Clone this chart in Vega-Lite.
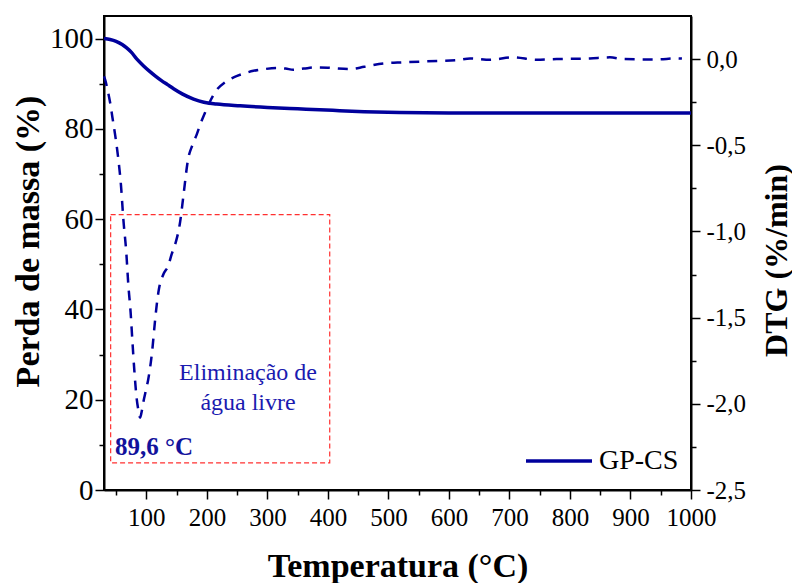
{
  "$schema": "https://vega.github.io/schema/vega-lite/v6.json",
  "width": 587,
  "height": 474,
  "autosize": {"type": "none"},
  "padding": {"left": 104, "top": 16, "right": 101, "bottom": 93},
  "background": "white",
  "config": {
    "view": {"stroke": "black", "strokeWidth": 2},
    "axis": {
      "labelFont": "Liberation Serif", "labelColor": "black",
      "titleFont": "Liberation Serif", "titleFontWeight": "bold", "titleColor": "black",
      "domainColor": "black", "tickColor": "black", "domainWidth": 2, "tickWidth": 1.5,
      "grid": false, "labelFlush": false, "labelOverlap": false
    },
    "legend": {"labelFont": "Liberation Serif", "labelColor": "black"}
  },
  "datasets": {
    "tg": [
      {"temp": 30, "mass": 100.0}, {"temp": 40, "mass": 99.8}, {"temp": 50, "mass": 99.4},
      {"temp": 60, "mass": 98.7}, {"temp": 67, "mass": 98.0}, {"temp": 75, "mass": 97.0},
      {"temp": 84, "mass": 95.5}, {"temp": 95, "mass": 94.0}, {"temp": 105, "mass": 92.8},
      {"temp": 115, "mass": 91.7}, {"temp": 125, "mass": 90.7}, {"temp": 135, "mass": 89.8},
      {"temp": 145, "mass": 88.9}, {"temp": 160, "mass": 87.7}, {"temp": 178, "mass": 86.6},
      {"temp": 195, "mass": 85.9}, {"temp": 216, "mass": 85.5}, {"temp": 255, "mass": 85.1},
      {"temp": 300, "mass": 84.75}, {"temp": 350, "mass": 84.45}, {"temp": 408, "mass": 84.1},
      {"temp": 460, "mass": 83.8}, {"temp": 519, "mass": 83.6}, {"temp": 600, "mass": 83.5},
      {"temp": 700, "mass": 83.5}, {"temp": 800, "mass": 83.5}, {"temp": 900, "mass": 83.5},
      {"temp": 1000, "mass": 83.5}
    ],
    "dtg": [
      {"temp": 30, "dtg": -0.10}, {"temp": 32, "dtg": -0.12}, {"temp": 36, "dtg": -0.18},
      {"temp": 40, "dtg": -0.25}, {"temp": 44, "dtg": -0.34}, {"temp": 48, "dtg": -0.43},
      {"temp": 53, "dtg": -0.56}, {"temp": 58, "dtg": -0.73}, {"temp": 62, "dtg": -0.93},
      {"temp": 67, "dtg": -1.13}, {"temp": 70, "dtg": -1.30}, {"temp": 74, "dtg": -1.47},
      {"temp": 77, "dtg": -1.64}, {"temp": 80, "dtg": -1.80}, {"temp": 84, "dtg": -1.97},
      {"temp": 87, "dtg": -2.04}, {"temp": 89.6, "dtg": -2.08}, {"temp": 92, "dtg": -2.05},
      {"temp": 95, "dtg": -1.99}, {"temp": 100, "dtg": -1.91}, {"temp": 103, "dtg": -1.86},
      {"temp": 110, "dtg": -1.68}, {"temp": 114, "dtg": -1.53}, {"temp": 118, "dtg": -1.40},
      {"temp": 121, "dtg": -1.33}, {"temp": 128, "dtg": -1.25}, {"temp": 136, "dtg": -1.20},
      {"temp": 142, "dtg": -1.13}, {"temp": 148, "dtg": -1.07}, {"temp": 156, "dtg": -0.94},
      {"temp": 161, "dtg": -0.80}, {"temp": 169, "dtg": -0.58}, {"temp": 176, "dtg": -0.50},
      {"temp": 183, "dtg": -0.44}, {"temp": 190, "dtg": -0.37}, {"temp": 197, "dtg": -0.31},
      {"temp": 206, "dtg": -0.24}, {"temp": 216, "dtg": -0.18}, {"temp": 230, "dtg": -0.135},
      {"temp": 245, "dtg": -0.105}, {"temp": 260, "dtg": -0.085}, {"temp": 277, "dtg": -0.068},
      {"temp": 295, "dtg": -0.058}, {"temp": 315, "dtg": -0.052}, {"temp": 330, "dtg": -0.055},
      {"temp": 343, "dtg": -0.062}, {"temp": 360, "dtg": -0.055}, {"temp": 381, "dtg": -0.048},
      {"temp": 400, "dtg": -0.050}, {"temp": 414, "dtg": -0.054}, {"temp": 437, "dtg": -0.058},
      {"temp": 460, "dtg": -0.045}, {"temp": 492, "dtg": -0.025}, {"temp": 525, "dtg": -0.019},
      {"temp": 563, "dtg": -0.013}, {"temp": 613, "dtg": -0.006}, {"temp": 635, "dtg": 0.004},
      {"temp": 668, "dtg": -0.004}, {"temp": 706, "dtg": 0.010}, {"temp": 745, "dtg": -0.004},
      {"temp": 778, "dtg": 0.0}, {"temp": 833, "dtg": 0.004}, {"temp": 866, "dtg": 0.010},
      {"temp": 888, "dtg": 0.0}, {"temp": 943, "dtg": -0.002}, {"temp": 976, "dtg": 0.004},
      {"temp": 985, "dtg": 0.003}
    ]
  },
  "layer": [
    {
      "layer": [
        {
          "data": {"name": "tg"},
          "mark": {"type": "line", "strokeWidth": 3.5, "interpolate": "monotone"},
          "encoding": {
            "x": {
              "field": "temp", "type": "quantitative",
              "scale": {"domain": [30, 1000], "nice": false, "zero": false},
              "axis": {
                "orient": "bottom",
                "values": [100, 200, 300, 400, 500, 600, 700, 800, 900, 1000],
                "format": "d",
                "tickSize": 9,
                "labelFontSize": 25, "labelPadding": 6,
                "title": "Temperatura (°C)", "titleFontSize": 34,
                "titleBaseline": "alphabetic", "titleY": 86
              }
            },
            "y": {
              "field": "mass", "type": "quantitative",
              "scale": {"domain": [0, 105], "nice": false, "zero": false},
              "axis": {
                "orient": "left",
                "values": [0, 10, 20, 30, 40, 50, 60, 70, 80, 90, 100],
                "labelExpr": "datum.value % 20 === 0 ? datum.label : ''",
                "tickSize": {"condition": {"test": "datum.value % 20 === 0", "value": 9}, "value": 5},
                "labelFontSize": 29, "labelPadding": 2,
                "title": "Perda de massa (%)", "titleFontSize": 34,
                "titleAngle": -90, "titleBaseline": "middle", "titleX": -76, "titleY": 225
              }
            },
            "color": {
              "datum": "GP-CS", "type": "nominal",
              "scale": {"range": ["#00009c"]},
              "legend": {
                "title": null, "orient": "none", "legendX": 420, "legendY": 410,
                "symbolType": "stroke", "symbolSize": 4356, "symbolStrokeWidth": 3.5,
                "labelFontSize": 28, "labelOffset": 5, "padding": 0
              }
            }
          }
        },
        {
          "data": {"values": [{"label": "box"}]},
          "mark": {"type": "rect", "fill": null, "filled": false, "stroke": "#ff3030", "strokeWidth": 1.2, "strokeDash": [5, 3]},
          "encoding": {
            "x": {"datum": 41, "type": "quantitative"},
            "x2": {"datum": 403},
            "y": {"datum": 6, "type": "quantitative"},
            "y2": {"datum": 61}
          }
        },
        {
          "data": {"values": [{"label": "89,6 °C"}]},
          "mark": {"type": "text", "align": "left", "baseline": "alphabetic", "font": "Liberation Serif", "fontWeight": "bold", "fontSize": 25, "color": "#12129c"},
          "encoding": {
            "x": {"datum": 48, "type": "quantitative"},
            "y": {"datum": 7.7, "type": "quantitative"},
            "text": {"field": "label"}
          }
        },
        {
          "data": {"values": [{"label": "Eliminação de"}]},
          "mark": {"type": "text", "align": "center", "baseline": "alphabetic", "font": "Liberation Serif", "fontSize": 24, "color": "#1a1ab0"},
          "encoding": {
            "x": {"datum": 268, "type": "quantitative"},
            "y": {"datum": 24.3, "type": "quantitative"},
            "text": {"field": "label"}
          }
        },
        {
          "data": {"values": [{"label": "água livre"}]},
          "mark": {"type": "text", "align": "center", "baseline": "alphabetic", "font": "Liberation Serif", "fontSize": 24, "color": "#1a1ab0"},
          "encoding": {
            "x": {"datum": 268, "type": "quantitative"},
            "y": {"datum": 17.8, "type": "quantitative"},
            "text": {"field": "label"}
          }
        }
      ]
    },
    {
      "data": {"name": "dtg"},
      "mark": {"type": "line", "strokeWidth": 2.5, "strokeDash": [10, 8], "color": "#00009c", "interpolate": "monotone"},
      "encoding": {
        "x": {
          "field": "temp", "type": "quantitative",
          "scale": {"domain": [30, 1000], "nice": false, "zero": false},
          "axis": {
            "orient": "bottom",
            "values": [50, 150, 250, 350, 450, 550, 650, 750, 850, 950],
            "tickSize": 5, "labels": false, "domain": false, "title": null
          }
        },
        "y": {
          "field": "dtg", "type": "quantitative",
          "scale": {"domain": [-2.5, 0.25], "nice": false, "zero": false},
          "axis": {
            "orient": "right",
            "values": [-2.5, -2.25, -2, -1.75, -1.5, -1.25, -1, -0.75, -0.5, -0.25, 0],
            "labelExpr": "abs(datum.value * 2 - round(datum.value * 2)) < 0.001 ? (datum.value < 0 ? '-' : '') + replace(format(abs(datum.value), '.1f'), '.', ',') : ''",
            "tickSize": {"condition": {"test": "abs(datum.value * 2 - round(datum.value * 2)) < 0.001", "value": 9}, "value": 5},
            "labelFontSize": 25, "labelPadding": 6,
            "title": "DTG (%/min)", "titleFontSize": 32,
            "titleAngle": -90, "titleBaseline": "middle", "titleX": 85, "titleY": 244
          }
        }
      }
    }
  ],
  "resolve": {"scale": {"y": "independent"}, "axis": {"x": "independent", "y": "independent"}}
}
